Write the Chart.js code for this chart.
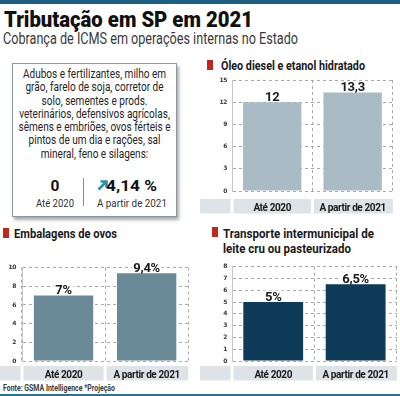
<!DOCTYPE html>
<html><head><meta charset="utf-8">
<script src="https://cdn.jsdelivr.net/npm/chart.js@4"></script>
<style>
html,body{margin:0;padding:0;background:#fff;}
body{width:400px;height:396px;position:relative;overflow:hidden;font-family:Roboto,'Liberation Sans',sans-serif;color:#222;}
.abs{position:absolute;white-space:nowrap;}
.fit{display:inline-block;}
.ttl{font-weight:700;font-size:13.5px;line-height:15px;color:#1a1a1a;}
.mk{position:absolute;background:#c0281e;width:6px;height:10px;}
canvas{position:absolute;}
</style></head>
<body>
<div class="abs" style="left:0;top:0;width:400px;height:4px;background:#1d5e83;"></div>
<div class="abs" style="left:4px;top:8px;font-size:22px;line-height:24px;font-weight:900;color:#111;"><span class="fit" data-w="249" data-o="left">Tributação em SP em 2021</span></div>
<div class="abs" style="left:3px;top:30px;font-size:16px;line-height:18px;color:#3a3a3a;"><span class="fit" data-w="295" data-o="left">Cobrança de ICMS em operações internas no Estado</span></div>

<div class="abs" style="left:12px;top:63px;width:163px;height:152px;border:1px solid #8d989e;box-shadow:2px 3px 3px rgba(60,70,80,0.45);background:#fff;"></div>
<div class="abs" style="left:-105px;top:67px;width:400px;text-align:center;font-size:13px;line-height:13.3px;color:#262626;">
<span class="fit" data-w="152" data-o="center" style="white-space:nowrap;">Adubos e fertilizantes, milho em<br>grão, farelo de soja, corretor de<br>solo, sementes e prods.<br>veterinários, defensivos agrícolas,<br>sêmens e embriões, ovos férteis e<br>pintos de um dia e rações, sal<br>mineral, feno e silagens:</span></div>
<div class="abs" style="left:35px;top:177px;width:40px;text-align:center;font-size:15.5px;line-height:18px;font-weight:700;color:#111;">0</div>
<div class="abs" style="left:30px;top:196px;width:50px;text-align:center;font-size:11.5px;line-height:14px;color:#333;"><span class="fit" data-w="38" data-o="center">Até 2020</span></div>
<div class="abs" style="left:83px;top:178px;width:1px;height:28px;background:#8a8a8a;"></div>
<svg class="abs" style="left:97px;top:180px;" width="11" height="11" viewBox="0 0 11 11"><path d="M1.5 9.5 L9 2 M3.5 1.5 H9.5 V7.5" stroke="#2b8fa9" stroke-width="2.6" fill="none"/></svg>
<div class="abs" style="left:106px;top:177px;font-size:15.5px;line-height:18px;font-weight:700;color:#111;"><span class="fit" data-w="51" data-o="left">4,14 %</span></div>
<div class="abs" style="left:91px;top:196px;width:80px;text-align:center;font-size:11.5px;line-height:14px;color:#333;"><span class="fit" data-w="70" data-o="center">A partir de 2021</span></div>

<div class="mk" style="left:207px;top:60px;"></div>
<div class="abs ttl" style="left:221px;top:58px;"><span class="fit" data-w="144" data-o="left">Óleo diesel e etanol hidratado</span></div>
<div class="mk" style="left:3px;top:228px;"></div>
<div class="abs ttl" style="left:14px;top:226px;"><span class="fit" data-w="103" data-o="left">Embalagens de ovos</span></div>
<div class="mk" style="left:212px;top:227px;"></div>
<div class="abs ttl" style="left:223px;top:226px;"><span class="fit" data-w="151" data-o="left">Transporte intermunicipal de</span></div>
<div class="abs ttl" style="left:223px;top:241px;"><span class="fit" data-w="128" data-o="left">leite cru ou pasteurizado</span></div>

<canvas id="c1" width="200" height="144" style="left:200px;top:70px;"></canvas>
<canvas id="c2" width="191" height="123" style="left:0px;top:258px;"></canvas>
<canvas id="c3" width="200" height="123" style="left:200px;top:258px;"></canvas>

<div class="abs" style="left:3px;top:383px;font-size:8.5px;line-height:10px;font-weight:700;color:#3b3b3b;"><span class="fit" data-w="112" data-o="left">Fonte: GSMA Intelligence *Projeção</span></div>
<div class="abs" style="left:0;top:394px;width:400px;height:2px;background:#2a7491;"></div>

<script>
// ---- data ----
const categories = ['Até 2020', 'A partir de 2021'];
const dieselValues = [12, 13.3];
const ovosValues = [7, 9.4];
const leiteValues = [5, 6.5];
const dieselTicks = [0, 3, 6, 9, 12, 15];
const ovosTicks = [0, 2, 4, 6, 8, 10];
const leiteTicks = [0, 1, 2, 3, 4, 5, 6, 7, 8];
const dieselSuffix = '';
const ovosSuffix = '%';
const leiteSuffix = '%';

// fit text widths
document.querySelectorAll('.fit').forEach(el => {
  const w = el.getBoundingClientRect().width;
  const t = parseFloat(el.dataset.w);
  el.style.transformOrigin = (el.dataset.o || 'left') + ' center';
  el.style.transform = 'scaleX(' + (t / w) + ')';
});

Chart.defaults.devicePixelRatio = 1;
const CF = "Roboto,'Liberation Sans',sans-serif";

const bandPlugin = {
  id: 'band',
  beforeDraw(chart, args, opts) {
    const ctx = chart.ctx, ca = chart.chartArea, n = chart.data.labels.length;
    const cw = ca.width / n;
    const y0 = ca.bottom + opts.gap, h = opts.height;
    ctx.letterSpacing = '-0.4px';
    ctx.save();
    ctx.fillStyle = '#dde3e7';
    ctx.fillRect(0, y0, ca.left - 1.5, h);
    for (let i = 0; i < n; i++) {
      const l = ca.left + i * cw + 1.5, r = ca.left + (i + 1) * cw - (i === n - 1 ? 0 : 1.5);
      ctx.fillRect(l, y0, r - l, h);
    }
    ctx.restore();
  }
};
const labelPlugin = {
  id: 'vlabels',
  afterDatasetsDraw(chart, args, opts) {
    const ctx = chart.ctx;
    const meta = chart.getDatasetMeta(0);
    const vals = chart.data.datasets[0].data;
    ctx.save();
    ctx.letterSpacing = '-0.3px';
    ctx.font = 'bold 13px ' + CF;
    ctx.textAlign = 'center';
    ctx.textBaseline = 'alphabetic';
    meta.data.forEach((bar, i) => {
      const txt = String(vals[i]).replace('.', ',') + opts.suffix;
      const w = ctx.measureText(txt).width;
      const y = bar.y - opts.offset;
      ctx.fillStyle = '#fff';
      ctx.fillRect(bar.x - w / 2 - 1.5, y - 10, w + 3, 11);
      ctx.fillStyle = '#1a1a1a';
      ctx.fillText(txt, bar.x, y);
    });
    ctx.restore();
  }
};

function makeChart(id, values, ticks, color, suffix, o) {
  return new Chart(document.getElementById(id), {
    type: 'bar',
    data: { labels: categories, datasets: [{ data: values, backgroundColor: color, borderWidth: 0,
      barPercentage: o.bp, categoryPercentage: 1 }] },
    options: {
      responsive: false, animation: false,
      layout: { padding: { top: o.top, right: 0, left: 0, bottom: 0 } },
      plugins: { legend: { display: false }, tooltip: { enabled: false },
        band: { gap: o.gap, height: 14.5 }, vlabels: { suffix: suffix, offset: o.loff } },
      scales: {
        x: {
          grid: { offset: true, color: '#a9a9a9', drawTicks: false, lineWidth: 1 },
          border: { display: false, dash: [3, 3] },
          ticks: { color: '#1a1a1a', font: { family: CF, size: 10, weight: 'bold' }, padding: o.xpad,
            maxRotation: 0, minRotation: 0, autoSkip: false },
          afterFit: s => { s.height = o.xh; }
        },
        y: {
          min: ticks[0], max: ticks[ticks.length - 1],
          afterBuildTicks: s => { s.ticks = ticks.map(v => ({ value: v })); },
          grid: { color: '#a9a9a9', drawTicks: false, lineWidth: 1 },
          border: { display: true, color: '#c8c8c8', dash: [3, 3] },
          ticks: { color: '#333', font: { family: 'DejaVu Sans', size: 6, weight: 'bold' }, padding: o.ypad },
          afterFit: s => { s.width = o.yw; }
        }
      }
    },
    plugins: [bandPlugin, labelPlugin]
  });
}

const c1 = makeChart('c1', dieselValues, dieselTicks, '#a9bcc6', dieselSuffix,
  { top: 10, xh: 23, yw: 32, gap: 8, xpad: 11, ypad: 5, bp: 0.726, loff: 1.5 });
const c2 = makeChart('c2', ovosValues, ovosTicks, '#6a8a98', ovosSuffix,
  { top: 8, xh: 20, yw: 22, gap: 5, xpad: 8, ypad: 6, bp: 0.714, loff: 1.5 });
const c3 = makeChart('c3', leiteValues, leiteTicks, '#0d3b58', leiteSuffix,
  { top: 8, xh: 20, yw: 32, gap: 5, xpad: 8, ypad: 5, bp: 0.726, loff: 1.5 });
</script>
</body></html>
